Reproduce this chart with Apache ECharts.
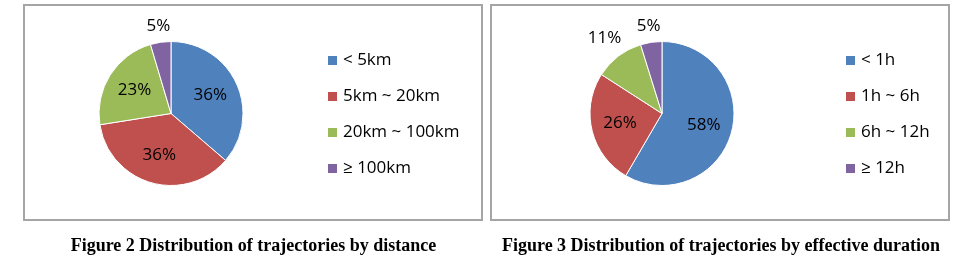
<!DOCTYPE html>
<html><head><meta charset="utf-8">
<script src="https://cdn.jsdelivr.net/npm/echarts@6/dist/echarts.min.js"></script>
<style>html,body{margin:0;padding:0;background:#fff}#c{width:966px;height:276px}</style>
</head><body><div id="c"></div>
<script>
const distCategories = ['< 5km', '5km ~ 20km', '20km ~ 100km', '≥ 100km'];
const distValues = [36.3, 36.2, 22.9, 4.6];
const durCategories = ['< 1h', '1h ~ 6h', '6h ~ 12h', '≥ 12h'];
const durValues = [58.4, 25.7, 11.1, 4.8];
const captions = ['Figure 2 Distribution of trajectories by distance', 'Figure 3 Distribution of trajectories by effective duration'];
const colors = ['#4f81bd', '#c0504d', '#9bbb59', '#8064a2'];

const FONT = 'Open Sans';
const R = 72;
const centers = [[171, 113.5], [662, 113.5]];

function makeLayout(values, center) {
  const total = values.reduce((a, b) => a + b, 0);
  return function (params) {
    const i = params.dataIndex;
    let cum = 0;
    for (let k = 0; k < i; k++) cum += values[k];
    const th = (cum + values[i] / 2) / total * 2 * Math.PI;
    const s = Math.sin(th), c = Math.cos(th);
    const pct = values[i] / total * 100;
    const w = params.labelRect.width, h = params.labelRect.height;
    let d;
    if (pct >= 15) d = 0.6 * R;
    else d = R + 6 + Math.abs(w / 2 * s) + Math.abs(h / 2 * c);
    return { x: center[0] + d * s, y: center[1] - d * c, align: 'center', verticalAlign: 'middle' };
  };
}

function pieSeries(names, values, center) {
  return {
    type: 'pie',
    center: center,
    radius: R,
    startAngle: 90,
    clockwise: true,
    animation: false,
    data: names.map((n, i) => ({ name: n, value: values[i] })),
    label: {
      show: true, position: 'inside', color: '#000', fontFamily: FONT, fontSize: 17,
      formatter: p => Math.round(p.percent) + '%'
    },
    labelLine: { show: false },
    labelLayout: makeLayout(values, center),
    itemStyle: { borderColor: '#fff', borderWidth: 1 },
    emphasis: { disabled: true }
  };
}

function legendOf(names, left) {
  return {
    data: names, orient: 'vertical', left: left, top: 52, padding: 0,
    itemWidth: 11, itemHeight: 11, itemGap: 19, icon: 'rect',
    textStyle: { fontFamily: FONT, fontSize: 17, color: '#000' },
    selectedMode: false
  };
}

const chart = echarts.init(document.getElementById('c'), null, { renderer: 'canvas' });
chart.setOption({
  animation: false,
  color: colors,
  legend: [legendOf(distCategories, 326), legendOf(durCategories, 844)],
  series: [
    pieSeries(distCategories, distValues, centers[0]),
    pieSeries(durCategories, durValues, centers[1])
  ],
  graphic: [
    { type: 'rect', silent: true, z: -1, shape: { x: 24, y: 5, width: 458, height: 215 }, style: { fill: 'none', stroke: '#a5a5a5', lineWidth: 2 } },
    { type: 'rect', silent: true, z: -1, shape: { x: 491, y: 5, width: 458, height: 215 }, style: { fill: 'none', stroke: '#a5a5a5', lineWidth: 2 } },
    { type: 'text', silent: true, x: 253.5, y: 246, style: { text: captions[0], font: 'bold 18px "Liberation Serif"', fill: '#000', align: 'center', verticalAlign: 'middle' } },
    { type: 'text', silent: true, x: 721, y: 246, style: { text: captions[1], font: 'bold 18px "Liberation Serif"', fill: '#000', align: 'center', verticalAlign: 'middle' } }
  ]
});
</script>
</body></html>
